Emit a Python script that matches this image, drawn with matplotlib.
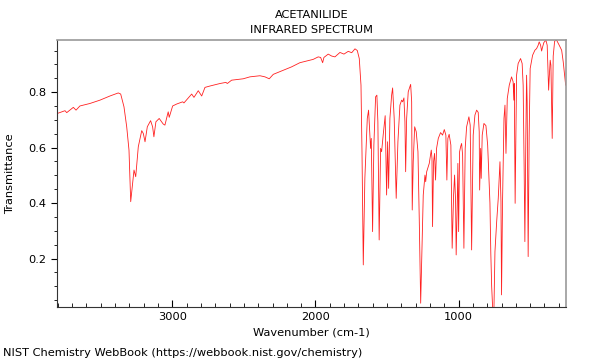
import matplotlib
matplotlib.use("Agg")
import matplotlib.pyplot as plt
from matplotlib.ticker import MultipleLocator


TITLE = "ACETANILIDE\nINFRARED SPECTRUM"
X_LABEL = "Wavenumber (cm-1)"
Y_LABEL = "Transmittance"
FOOTER = "NIST Chemistry WebBook (https://webbook.nist.gov/chemistry)"

X_TICKS = [3000, 2000, 1000]
Y_TICKS = [0.2, 0.4, 0.6, 0.8]

# values (cm-1, transmittance)
wavenumber = [
    3804, 3750, 3738, 3692, 3673, 3646, 3576, 3506, 3436, 3378,
    3361, 3338, 3319, 3303, 3291, 3280, 3268, 3256, 3238, 3214,
    3203, 3191, 3175, 3152, 3138, 3129, 3115, 3092, 3064, 3052,
    3029, 3022, 2998, 2970, 2928, 2919, 2882, 2865, 2849, 2819,
    2795, 2772, 2737, 2667, 2626, 2616, 2586, 2505, 2458, 2388,
    2353, 2323, 2295, 2225, 2167, 2109, 2016, 1981, 1964, 1950,
    1941, 1911, 1887, 1864, 1829, 1801, 1771, 1747, 1724, 1708,
    1694, 1682, 1675, 1666, 1655, 1638, 1629, 1620, 1615, 1610,
    1601, 1592, 1580, 1571, 1564, 1555, 1545, 1538, 1527, 1513,
    1503, 1496, 1489, 1480, 1468, 1461, 1450, 1445, 1436, 1424,
    1410, 1398, 1391, 1382, 1375, 1370, 1363, 1352, 1335, 1328,
    1324, 1317, 1307, 1296, 1284, 1275, 1265, 1256, 1247, 1235,
    1230, 1223, 1205, 1191, 1186, 1182, 1175, 1168, 1161, 1154,
    1142, 1126, 1112, 1100, 1089, 1082, 1075, 1066, 1054, 1045,
    1035, 1028, 1021, 1017, 1010, 1005, 1000, 993, 986, 979,
    972, 963, 954, 944, 928, 919, 909, 898, 886, 874,
    863, 856, 853, 846, 842, 835, 823, 809, 797, 786,
    781, 775, 769, 762, 753, 746, 734, 723, 711, 704,
    700, 693, 683, 676, 669, 660, 646, 630, 619, 614,
    611, 605, 595, 584, 567, 556, 549, 542, 537, 530,
    525, 521, 514, 507, 500, 483, 467, 455, 444, 437,
    427, 420, 413, 404, 390, 381, 371, 367, 360, 355,
    346, 339, 329, 315, 297, 280, 269, 252,
]
transmittance = [
    0.723, 0.733, 0.726, 0.745, 0.735, 0.750, 0.759, 0.771, 0.786, 0.797,
    0.793, 0.747, 0.675, 0.591, 0.405, 0.459, 0.519, 0.495, 0.603, 0.661,
    0.651, 0.621, 0.675, 0.697, 0.675, 0.639, 0.693, 0.705, 0.685, 0.681,
    0.729, 0.709, 0.750, 0.757, 0.765, 0.761, 0.783, 0.793, 0.781, 0.805,
    0.786, 0.817, 0.822, 0.831, 0.835, 0.831, 0.843, 0.848, 0.855, 0.859,
    0.855, 0.848, 0.864, 0.879, 0.891, 0.906, 0.918, 0.927, 0.925, 0.906,
    0.925, 0.937, 0.930, 0.927, 0.943, 0.937, 0.947, 0.942, 0.956, 0.950,
    0.921, 0.825, 0.585, 0.177, 0.489, 0.705, 0.735, 0.645, 0.597, 0.633,
    0.297, 0.609, 0.783, 0.789, 0.693, 0.267, 0.597, 0.585, 0.645, 0.715,
    0.429, 0.621, 0.453, 0.705, 0.789, 0.815, 0.705, 0.597, 0.417, 0.621,
    0.753, 0.771, 0.765, 0.779, 0.693, 0.513, 0.705, 0.801, 0.828, 0.765,
    0.375, 0.549, 0.675, 0.657, 0.585, 0.345, 0.039, 0.237, 0.429, 0.501,
    0.477, 0.513, 0.543, 0.591, 0.561, 0.315, 0.549, 0.579, 0.483, 0.597,
    0.633, 0.654, 0.645, 0.665, 0.645, 0.483, 0.633, 0.648, 0.609, 0.237,
    0.429, 0.501, 0.405, 0.213, 0.381, 0.543, 0.297, 0.585, 0.603, 0.615,
    0.573, 0.237, 0.597, 0.675, 0.711, 0.681, 0.231, 0.645, 0.717, 0.735,
    0.727, 0.657, 0.447, 0.597, 0.489, 0.645, 0.687, 0.679, 0.609, 0.465,
    0.400, 0.220, 0.100, 0.020, 0.020, 0.225, 0.333, 0.417, 0.549, 0.405,
    0.069, 0.405, 0.705, 0.753, 0.579, 0.777, 0.825, 0.855, 0.837, 0.771,
    0.831, 0.399, 0.861, 0.903, 0.921, 0.903, 0.825, 0.525, 0.261, 0.645,
    0.861, 0.765, 0.207, 0.645, 0.885, 0.933, 0.951, 0.957, 0.969, 0.981,
    0.969, 0.948, 0.963, 0.979, 0.987, 0.969, 0.807, 0.850, 0.915, 0.897,
    0.633, 0.930, 0.984, 0.987, 0.969, 0.951, 0.909, 0.825,
]


def spectrum_chart():
    fig = plt.figure(figsize=(6, 3.6), dpi=100)
    ax = fig.add_axes([0.095, 0.147, 0.848, 0.742])

    ax.plot(wavenumber, transmittance, color="#ff2020", linewidth=0.6)

    ax.set_xlim(3806, 251)
    ax.set_ylim(0.025, 0.988)
    ax.set_xticks(X_TICKS)
    ax.set_yticks(Y_TICKS)
    ax.xaxis.set_minor_locator(MultipleLocator(100))
    ax.yaxis.set_minor_locator(MultipleLocator(0.05))
    ax.tick_params(axis="x", which="major", direction="in", length=5, labelsize=8.2)
    ax.tick_params(axis="x", which="minor", direction="in", length=3)
    ax.tick_params(axis="y", which="major", direction="out", length=4, labelsize=8.2)
    ax.tick_params(axis="y", which="minor", direction="out", length=2.5)

    for side in ["left", "bottom"]:
        ax.spines[side].set_color("#333333")
    for side in ["top", "right"]:
        ax.spines[side].set_color("#999999")
        ax.spines[side].set_linewidth(1.2)

    ax.set_title(TITLE, fontsize=8.2, linespacing=1.6, pad=5)
    ax.set_xlabel(X_LABEL, fontsize=8.2, labelpad=4)
    ax.set_ylabel(Y_LABEL, fontsize=8.2, labelpad=10)
    fig.text(0.005, 0.005, FOOTER, fontsize=8.2, ha="left", va="bottom")

    fig.savefig("out.png", dpi=100)
    plt.close(fig)


def main():
    spectrum_chart()


if __name__ == "__main__":
    main()
